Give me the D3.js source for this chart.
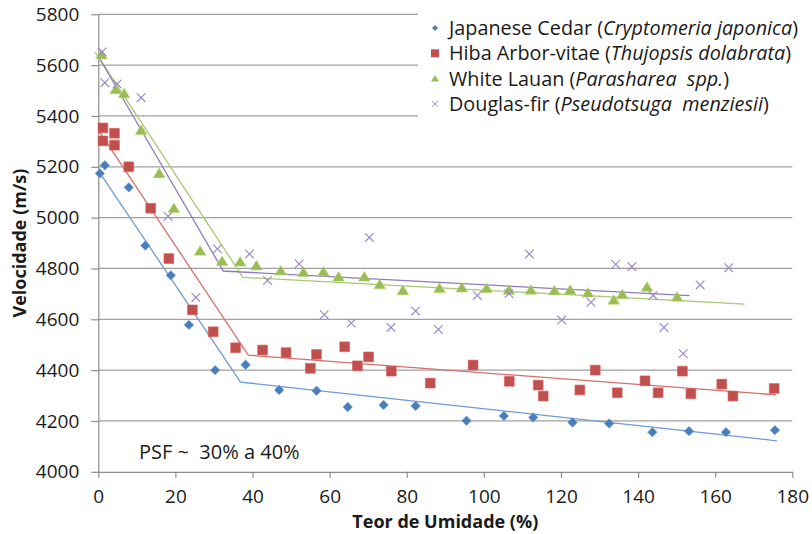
<!DOCTYPE html>
<html>
<head>
<meta charset="utf-8">
<script src="https://cdn.jsdelivr.net/npm/d3@7"></script>
<style>
  html, body { margin: 0; padding: 0; background: #fff; }
  svg { display: block; font-family: "Open Sans", "Liberation Sans", sans-serif; }
</style>
</head>
<body>
<svg id="chart" width="812" height="534"></svg>
<script>
// Velocity vs moisture content for four wood species
const cedarX = [0.4, 1.7, 7.9, 12.2, 18.8, 23.5, 30.3, 38.2, 46.9, 56.6, 64.7, 74.0, 82.3, 95.5, 105.2, 112.8, 123.0, 132.5, 143.7, 153.2, 162.8, 175.5];
const cedarV = [5174, 5206, 5119, 4890, 4773, 4578, 4400, 4421, 4322, 4319, 4255, 4263, 4259, 4201, 4220, 4214, 4194, 4190, 4156, 4160, 4156, 4164];

const hibaX = [1.2, 1.2, 4.2, 4.2, 7.9, 13.6, 18.3, 24.4, 29.8, 35.6, 42.6, 48.7, 55.0, 56.6, 63.9, 67.2, 70.1, 76.0, 86.1, 97.2, 106.6, 114.1, 115.4, 124.9, 128.9, 134.6, 141.8, 145.2, 151.5, 153.7, 161.7, 164.6, 175.3];
const hibaV = [5353, 5302, 5332, 5285, 5200, 5037, 4839, 4637, 4551, 4488, 4479, 4469, 4407, 4462, 4492, 4417, 4452, 4396, 4349, 4420, 4356, 4341, 4298, 4322, 4400, 4311, 4358, 4311, 4396, 4307, 4345, 4298, 4328];

const lauanX = [0.8, 4.5, 6.7, 11.1, 15.8, 19.6, 26.4, 32.1, 36.8, 41.0, 47.3, 53.2, 58.4, 62.3, 69.0, 73.0, 79.0, 88.5, 94.3, 100.7, 106.5, 112.2, 118.3, 122.4, 127.0, 133.7, 135.9, 142.3, 150.1];
const lauanV = [5641, 5504, 5488, 5344, 5174, 5037, 4869, 4828, 4826, 4811, 4791, 4785, 4787, 4767, 4767, 4737, 4713, 4722, 4724, 4722, 4715, 4715, 4713, 4715, 4704, 4676, 4698, 4727, 4688];

const douglasX = [1.0, 1.7, 4.9, 11.1, 18.1, 25.3, 30.9, 39.2, 43.9, 52.1, 58.6, 65.6, 70.3, 75.9, 82.3, 88.2, 98.3, 106.5, 111.8, 120.2, 127.8, 134.2, 138.4, 143.9, 146.7, 151.7, 156.1, 163.5];
const douglasV = [5652, 5531, 5526, 5472, 5005, 4686, 4877, 4857, 4753, 4818, 4618, 4585, 4922, 4568, 4633, 4560, 4694, 4701, 4857, 4597, 4667, 4816, 4807, 4694, 4568, 4465, 4735, 4803];

// Two-segment fitted lines (break near the fibre saturation point)
const cedarFitX = [0, 36.9, 176];
const cedarFitV = [5185, 4353, 4122];
const hibaFitX = [0, 38.9, 175.8];
const hibaFitV = [5345, 4459, 4303];
const lauanFitX = [-0.8, 37.5, 167.6];
const lauanFitV = [5651, 4765, 4660];
const douglasFitX = [0, 32.4, 153.3];
const douglasFitV = [5635, 4790, 4693];

const xTicks = [0, 20, 40, 60, 80, 100, 120, 140, 160, 180];
const yTicks = [4000, 4200, 4400, 4600, 4800, 5000, 5200, 5400, 5600, 5800];

const legendNames = [
  ["Japanese Cedar (", "Cryptomeria japonica", ")"],
  ["Hiba Arbor-vitae (", "Thujopsis dolabrata", ")"],
  ["White Lauan (", "Parasharea  spp.", ")"],
  ["Douglas-fir (", "Pseudotsuga  menziesii", ")"]
];
const psfLabel = "PSF ~  30% a 40%";
const xTitle = "Teor de Umidade (%)";
const yTitle = "Velocidade (m/s)";

const series = [
  { xs: cedarX, vs: cedarV, fx: cedarFitX, fv: cedarFitV, marker: "diamond", color: "#4a7ebb", line: "#6f9ad0" },
  { xs: hibaX, vs: hibaV, fx: hibaFitX, fv: hibaFitV, marker: "square", color: "#c0504d", line: "#d66f6b" },
  { xs: lauanX, vs: lauanV, fx: lauanFitX, fv: lauanFitV, marker: "triangle", color: "#9bbb59", line: "#a8c874" },
  { xs: douglasX, vs: douglasV, fx: douglasFitX, fv: douglasFitV, marker: "cross", color: "#9d8cc4", line: "#8e7bb8" }
];

const svg = d3.select("#chart");
const plotLeft = 98.3, plotTop = 14.3, plotRight = 792.3, plotBottom = 471.8;

const x = d3.scaleLinear().domain([0, 180]).range([plotLeft, plotRight]);
const y = d3.scaleLinear().domain([4000, 5800]).range([plotBottom, plotTop]);

const gridColor = "#a0a0a0";
const axisColor = "#8c8c8c";

// horizontal gridlines
svg.append("g").selectAll("line").data(yTicks.slice(1)).join("line")
  .attr("x1", plotLeft).attr("x2", plotRight)
  .attr("y1", d => y(d)).attr("y2", d => y(d))
  .attr("stroke", gridColor).attr("stroke-width", 1.2);

// axes
const yAxis = svg.append("g").attr("transform", `translate(${plotLeft},0)`)
  .call(d3.axisLeft(y).tickValues(yTicks).tickFormat(d3.format("d"))
    .tickSize(7).tickPadding(12).tickSizeOuter(0));
const xAxis = svg.append("g").attr("transform", `translate(0,${plotBottom})`)
  .call(d3.axisBottom(x).tickValues(xTicks).tickFormat(d3.format("d"))
    .tickSize(6).tickPadding(12).tickSizeOuter(0));
[xAxis, yAxis].forEach(g => {
  g.select(".domain").attr("stroke", axisColor).attr("stroke-width", 1.2);
  g.selectAll(".tick line").attr("stroke", axisColor).attr("stroke-width", 1.2);
  g.selectAll(".tick text").attr("fill", "#1a1a1a")
    .style("font-family", '"Open Sans", sans-serif').style("font-size", "19px");
});

// fitted lines
const lineGen = d3.line().x(d => x(d[0])).y(d => y(d[1]));
series.forEach(s => {
  const pts = s.fx.map((v, i) => [v, s.fv[i]]);
  svg.append("path").datum(pts)
    .attr("d", lineGen).attr("fill", "none")
    .attr("stroke", s.line).attr("stroke-width", 1.3);
});

// marker shapes
function markerPath(kind, r) {
  switch (kind) {
    case "diamond": return `M0,${-r}L${r},0L0,${r}L${-r},0Z`;
    case "square": return `M${-r},${-r}H${r}V${r}H${-r}Z`;
    case "triangle": return `M0,${-r}L${r * 1.1},${r * 0.8}L${-r * 1.1},${r * 0.8}Z`;
    case "cross": return `M${-r},${-r}L${r},${r}M${r},${-r}L${-r},${r}`;
  }
}
const markerSize = { diamond: 4.7, square: 4.9, triangle: 5.3, cross: 4.3 };

series.forEach(s => {
  const pts = s.xs.map((v, i) => [v, s.vs[i]]);
  const g = svg.append("g");
  g.selectAll("path").data(pts).join("path")
    .attr("transform", d => `translate(${x(d[0])},${y(d[1])})`)
    .attr("d", markerPath(s.marker, markerSize[s.marker]))
    .attr("fill", s.marker === "cross" ? "none" : s.color)
    .attr("stroke", s.marker === "cross" ? s.color : d3.color(s.color).brighter(0.4))
    .attr("stroke-width", s.marker === "cross" ? 1.2 : 0.6);
});

// legend
const legend = svg.append("g");
legend.append("rect").attr("x", 418).attr("y", 6).attr("width", 394).attr("height", 114).attr("fill", "#fff");
const legendSize = { diamond: 3, square: 4, triangle: 3.6, cross: 3 };
legendNames.forEach((parts, i) => {
  const cy = 28 + i * 25.3;
  const s = series[i];
  legend.append("path")
    .attr("transform", `translate(435,${cy})`)
    .attr("d", markerPath(s.marker, legendSize[s.marker]))
    .attr("fill", s.marker === "cross" ? "none" : s.color)
    .attr("stroke", s.marker === "cross" ? s.color : "none")
    .attr("stroke-width", 1);
  const t = legend.append("text").attr("x", 449).attr("y", cy).attr("dy", "0.36em")
    .attr("fill", "#1a1a1a").style("font-size", "19.8px").attr("xml:space", "preserve");
  t.append("tspan").text(parts[0]);
  t.append("tspan").style("font-style", "italic").text(parts[1]);
  t.append("tspan").text(parts[2]);
});

// annotation
svg.append("text").attr("x", 139).attr("y", 452).attr("dy", "0.36em")
  .attr("fill", "#1a1a1a").style("font-size", "20px").attr("xml:space", "preserve")
  .text(psfLabel);

// axis titles
svg.append("text").attr("x", (plotLeft + plotRight) / 2).attr("y", 528)
  .attr("text-anchor", "middle").attr("fill", "#1a1a1a")
  .style("font-size", "18px").style("font-weight", "bold").text(xTitle);
svg.append("text").attr("transform", `translate(26,${(plotTop + plotBottom) / 2}) rotate(-90)`)
  .attr("text-anchor", "middle").attr("fill", "#1a1a1a")
  .style("font-size", "18px").style("font-weight", "bold").text(yTitle);
</script>
</body>
</html>
